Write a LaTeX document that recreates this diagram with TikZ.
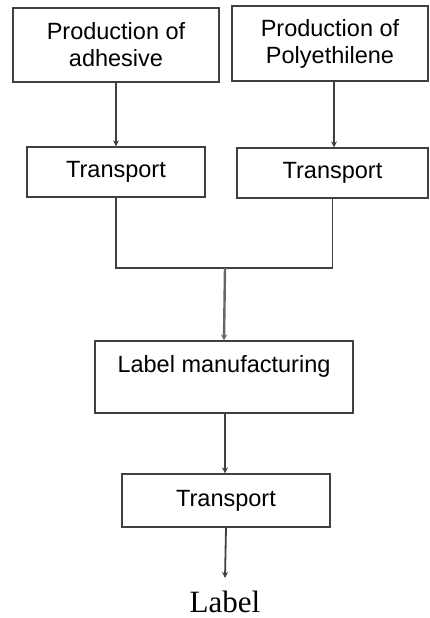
\documentclass[tikz,border=0pt]{standalone}
\usepackage{fontspec}
\setmainfont{Liberation Sans}
\newfontfamily\serifface{Liberation Serif}
\usetikzlibrary{arrows.meta}
\begin{document}
\begin{tikzpicture}[x=1pt,y=-1pt,
  box/.style={draw=black!75, line width=1.3pt, fill=white, inner sep=0pt, align=center,
    font=\fontsize{23.5}{27}\selectfont},
  conn/.style={draw=black!75, line width=1.8pt},
  arr/.style={conn, -{Stealth[length=6pt,width=6pt]}}]
\useasboundingbox (0,0) rectangle (429,618);
\node[box, minimum width=206pt, minimum height=74pt] (a1) at (116,45) {Production of\\adhesive};
\node[box, minimum width=196pt, minimum height=75pt] (a2) at (330,43.5) {Production of\\Polyethilene};
\node[box, minimum width=178pt, minimum height=50pt] (t1) at (116,172) {Transport};
\node[box, minimum width=191pt, minimum height=50pt] (t2) at (332.5,173) {Transport};
\node[box, minimum width=258pt, minimum height=72pt] (lm) at (224,377) {Label manufacturing\\\mbox{}};
\node[box, minimum width=208pt, minimum height=53pt] (t3) at (226,500.5) {Transport};
\node[anchor=base, inner sep=0pt, font=\serifface\fontsize{31}{36}\selectfont] (lab) at (225,612) {Label};
\coordinate (j) at (225,268);
\draw[arr] (a1.south) -- (t1.north);
\draw[arr] (a2.south -| t2.south) ++(1.5,0) coordinate (a2s) -- (a2s |- t2.north);
\draw[conn] (t1.south) |- (j) -| (t2.south);
\draw[arr, line width=2.4pt, draw=black!60] (j) -- (lm.north);
\draw[arr] (lm.south) ++(1,0) coordinate (lms) -- (lms |- t3.north);
\draw[arr] (t3.south) -- (lab.north |- 0,578);
\end{tikzpicture}
\end{document}
